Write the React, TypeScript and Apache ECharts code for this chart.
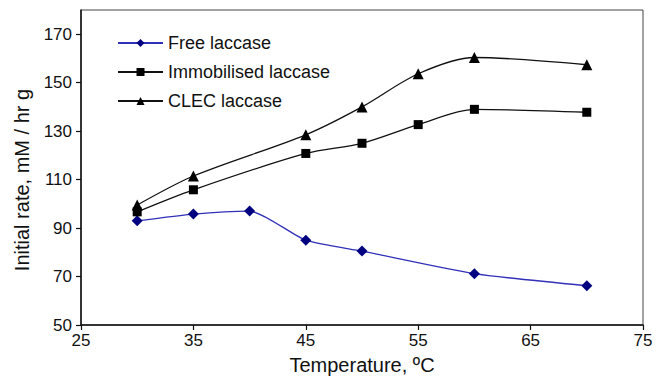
import React, { useEffect, useRef } from "react";
import * as echarts from "echarts";

const xTicks = [25, 35, 45, 55, 65, 75];
const yTicks = [50, 70, 90, 110, 130, 150, 170];

const freeTemps = [30, 35, 40, 45, 50, 60, 70];
const freeRates = [93, 95.8, 97, 85, 80.5, 71.2, 66.2];

const immTemps = [30, 35, 45, 50, 55, 60, 70];
const immRates = [96.7, 105.8, 120.8, 125, 132.7, 139, 137.8];

const clecTemps = [30, 35, 45, 50, 55, 60, 70];
const clecRates = [99.5, 111.5, 128.5, 140, 153.7, 160.4, 157.4];

const seriesNames = ["Free laccase", "Immobilised laccase", "CLEC laccase"];
const yAxisTitle = "Initial rate, mM / hr g";
const xAxisTitle = "Temperature, ºC";

const FONT = "Liberation Sans, Arial, sans-serif";

export default function App() {
  const ref = useRef<HTMLDivElement>(null);

  useEffect(() => {
    document.body.style.margin = "0";
    if (!ref.current) return;
    const chart = echarts.init(ref.current, undefined, { renderer: "svg" });

    const pairs = (xs: number[], ys: number[]) => xs.map((x, i) => [x, ys[i]]);

    chart.setOption({
      animation: false,
      backgroundColor: "#ffffff",
      textStyle: { fontFamily: FONT },
      grid: {
        left: 81,
        right: 15,
        top: 10,
        bottom: 52,
        show: true,
        borderColor: "#444",
        borderWidth: 1,
        backgroundColor: "transparent",
      },
      graphic: [
        {
          type: "text",
          x: 22,
          y: 180,
          rotation: Math.PI / 2,
          style: {
            text: yAxisTitle,
            fontSize: 20,
            fontFamily: FONT,
            fill: "#111",
            align: "center",
            verticalAlign: "middle",
          },
        },
      ],
      legend: {
        orient: "vertical",
        left: 112,
        top: 29,
        itemWidth: 45,
        itemHeight: 10,
        itemGap: 11,
        data: seriesNames,
        textStyle: {
          fontSize: 18,
          lineHeight: 18,
          color: "#111",
          fontFamily: FONT,
        },
      },
      xAxis: {
        type: "value",
        min: 25,
        max: 75,
        name: xAxisTitle,
        nameLocation: "middle",
        nameGap: 30,
        nameTextStyle: { fontSize: 20, color: "#111", fontFamily: FONT },
        axisLine: { show: true, lineStyle: { color: "#111", width: 1.5 } },
        axisTick: {
          show: true,
          length: 5,
          lineStyle: { color: "#111", width: 1.2 },
          customValues: xTicks,
        },
        axisLabel: {
          fontSize: 17,
          color: "#111",
          margin: 7,
          fontFamily: FONT,
          customValues: xTicks,
        },
        splitLine: { show: false },
      },
      yAxis: {
        type: "value",
        min: 50,
        max: 180,
        axisLine: { show: true, lineStyle: { color: "#111", width: 1.5 } },
        axisTick: {
          show: true,
          length: 5,
          lineStyle: { color: "#111", width: 1.2 },
          customValues: yTicks,
        },
        axisLabel: {
          fontSize: 17,
          color: "#111",
          margin: 9,
          fontFamily: FONT,
          customValues: yTicks,
        },
        splitLine: { show: false },
      },
      series: [
        {
          name: seriesNames[0],
          type: "line",
          data: pairs(freeTemps, freeRates),
          smooth: 0.2,
          symbol: "diamond",
          symbolSize: 11,
          lineStyle: { color: "#3030b8", width: 1.3 },
          itemStyle: { color: "#000080" },
        },
        {
          name: seriesNames[1],
          type: "line",
          data: pairs(immTemps, immRates),
          smooth: 0.3,
          symbol: "rect",
          symbolSize: 9,
          lineStyle: { color: "#111", width: 1.3 },
          itemStyle: { color: "#000" },
        },
        {
          name: seriesNames[2],
          type: "line",
          data: pairs(clecTemps, clecRates),
          smooth: 0.3,
          symbol: "triangle",
          symbolSize: 11,
          lineStyle: { color: "#111", width: 1.3 },
          itemStyle: { color: "#000" },
        },
      ],
    });

    return () => chart.dispose();
  }, []);

  return <div ref={ref} style={{ width: 658, height: 380 }} />;
}
